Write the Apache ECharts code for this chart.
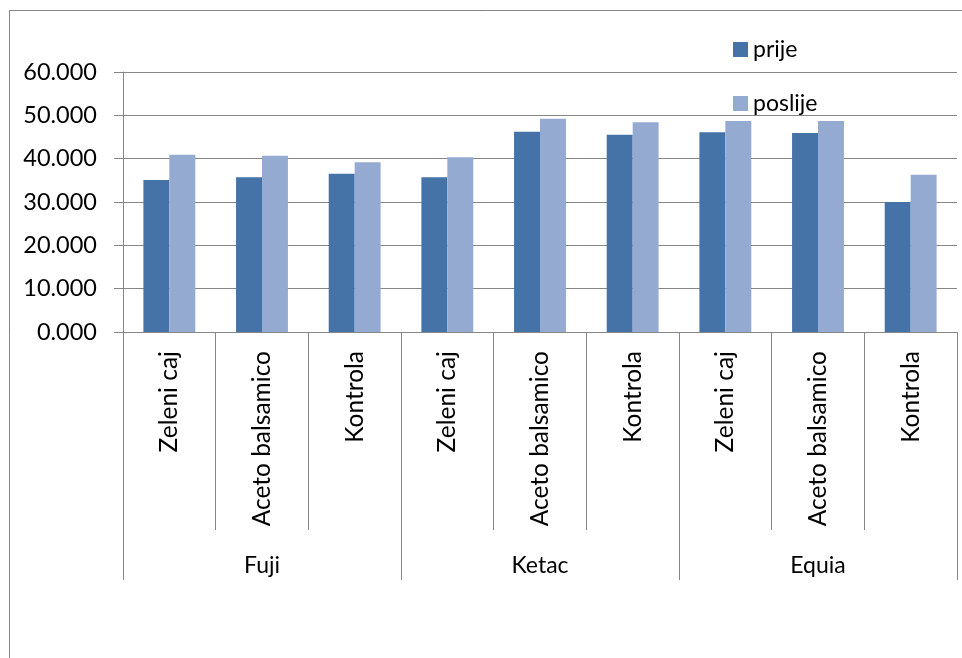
<!DOCTYPE html>
<html>
<head>
<meta charset="utf-8">
<script src="https://cdn.jsdelivr.net/npm/echarts@6/dist/echarts.min.js"></script>
<style>
html,body{margin:0;padding:0;background:#fff;}
#chart{width:962px;height:658px;}
</style>
</head>
<body>
<div id="chart"></div>
<script>
const subCategories = ['Zeleni caj','Aceto balsamico','Kontrola','Zeleni caj','Aceto balsamico','Kontrola','Zeleni caj','Aceto balsamico','Kontrola'];
const groups = ['Fuji','Ketac','Equia'];
const prije = [35.1, 35.7, 36.5, 35.7, 46.2, 45.5, 46.1, 45.9, 30.0];
const poslije = [40.9, 40.7, 39.2, 40.3, 49.2, 48.4, 48.7, 48.7, 36.3];
const yTicks = [0, 10, 20, 30, 40, 50, 60];

const FONT = 'Lato';
const GRAY = '#868686';
const chart = echarts.init(document.getElementById('chart'));
chart.setOption({
  animation: false,
  backgroundColor: '#fff',
  graphic: [{
    type: 'rect', left: 7, top: 8,
    shape: {width: 1000, height: 700},
    style: {fill: 'none', stroke: GRAY, lineWidth: 1}, silent: true
  }],
  legend: {
    orient: 'vertical', left: 728, top: 33,
    itemWidth: 15, itemHeight: 15, itemGap: 31,
    icon: 'rect',
    textStyle: {fontFamily: FONT, fontSize: 23, color: '#000'},
    data: ['prije', 'poslije']
  },
  grid: {left: 123, right: 5, top: 72, bottom: 326, containLabel: false},
  xAxis: [{
    type: 'category', data: subCategories, position: 'bottom',
    axisLine: {show: true, lineStyle: {color: GRAY, width: 1}},
    axisTick: {show: true, interval: 0, length: 198, lineStyle: {color: GRAY}},
    axisLabel: {interval: 0, rotate: 90, margin: 19, fontFamily: FONT, fontSize: 24.5, color: '#000'},
    splitLine: {show: false}
  }, {
    type: 'category', data: groups, position: 'bottom',
    axisLine: {show: false},
    axisTick: {show: true, interval: 0, length: 248, lineStyle: {color: GRAY}},
    axisLabel: {interval: 0, margin: 222, fontFamily: FONT, fontSize: 23, color: '#000'},
    splitLine: {show: false}
  }],
  yAxis: {
    type: 'value', min: yTicks[0], max: yTicks[yTicks.length - 1], interval: 10,
    axisLine: {show: true, lineStyle: {color: GRAY, width: 1}},
    axisTick: {show: true, length: 9, lineStyle: {color: GRAY}},
    axisLabel: {margin: 26, fontFamily: FONT, fontSize: 23.5, color: '#000',
      formatter: v => v.toFixed(3)},
    splitLine: {show: true, lineStyle: {color: GRAY, width: 1}}
  },
  series: [{
    name: 'prije', type: 'bar', data: prije, xAxisIndex: 0,
    barGap: '0%', barCategoryGap: '44%',
    itemStyle: {color: '#4673A7'}
  }, {
    name: 'poslije', type: 'bar', data: poslije, xAxisIndex: 0,
    barGap: '0%', barCategoryGap: '44%',
    itemStyle: {color: '#95AAD1'}
  }]
});
</script>
</body>
</html>
